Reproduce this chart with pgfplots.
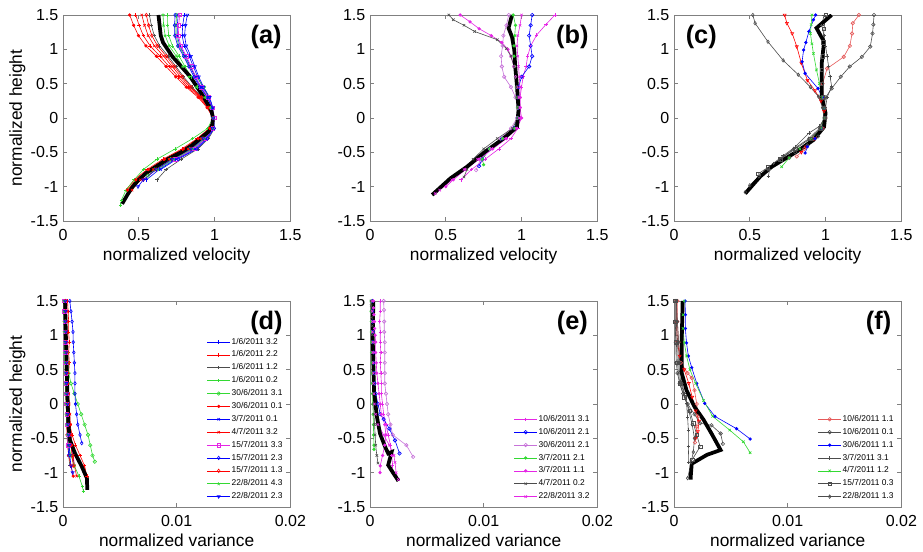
\documentclass[border=0pt]{standalone}
\usepackage{pgfplots}
\pgfplotsset{compat=1.18}
\usepackage{fontspec}
\setmainfont{Liberation Sans}
\definecolor{mb}{rgb}{0,0,1}
\definecolor{mr}{rgb}{1,0,0}
\definecolor{mk}{rgb}{0.3,0.3,0.3}
\definecolor{mg}{rgb}{0.2,0.85,0.2}
\definecolor{mm}{rgb}{0.9,0.15,0.9}
\definecolor{mv}{rgb}{0.78,0.45,0.85}
\definecolor{lr}{rgb}{0.9,0.35,0.35}
\definecolor{axgray}{rgb}{0.5,0.5,0.5}
\tikzset{plab/.style={font=\bfseries\fontsize{19}{19}\selectfont}}
\pgfplotsset{
 panel/.style={scale only axis, width=170.5pt, height=154.5pt, ymin=-1.5, ymax=1.5,
  ytick={-1.5,-1,-0.5,0,0.5,1,1.5}, yticklabels={-1.5,-1,-0.5,0,0.5,1,1.5},
  tick align=inside, tick pos=both, major tick length=3pt,
  axis line style={axgray, line width=0.6pt}, every tick/.style={axgray, line width=0.6pt},
  tick label style={font=\fontsize{12}{14}\selectfont},
  xticklabel style={yshift=-3pt},
  label style={font=\fontsize{13}{15}\selectfont},
  xlabel style={yshift=2pt},
  ylabel style={yshift=-3pt},
  scaled x ticks=false, scaled y ticks=false,
  every axis plot/.append style={line width=0.45pt, mark size=1.3pt},
  legend cell align=left,
  legend style={at={(0.99,0.01)}, anchor=south east, draw=none, fill=none,
   font=\fontsize{6.3}{7}\selectfont, row sep=1.6pt, nodes={inner sep=1pt}}},
 vel/.style={panel, xmin=0, xmax=1.5, xtick={0,0.5,1,1.5}, xticklabels={0,0.5,1,1.5}, xlabel={normalized velocity}},
 var/.style={panel, xmin=0, xmax=0.02, xtick={0,0.01,0.02}, xticklabels={0,0.01,0.02}, xlabel={normalized variance}},
 meanline/.style={black, line width=2.8pt, no marks},
 sa1/.style={mb, mark=+}, sa2/.style={mr, mark=+}, sa3/.style={mk, mark=+}, sa4/.style={mg, mark=+},
 sa5/.style={mg, mark=o}, sa6/.style={mr, mark=*, mark size=1pt}, sa7/.style={mb, mark=x}, sa8/.style={mr, mark=x},
 sa9/.style={mm, mark=square}, sa10/.style={mb, mark=diamond}, sa11/.style={mr, mark=diamond},
 sa12/.style={mg, mark=star}, sa13/.style={mb, mark=triangle, mark options={rotate=180}},
 sb1/.style={mm, mark=+}, sb2/.style={mb, mark=o}, sb3/.style={mv, mark=o}, sb4/.style={mg, mark=*, mark size=1pt},
 sb5/.style={mm, mark=*, mark size=1pt}, sb6/.style={mk, mark=x}, sb7/.style={mm, mark=x},
 sc1/.style={lr, mark=o}, sc2/.style={mk, mark=o}, sc3/.style={mb, mark=*, mark size=1pt}, sc4/.style={mk, mark=+},
 sc5/.style={mg, mark=x}, sc6/.style={mk, mark=square}, sc7/.style={mk, mark=diamond}, sc8/.style={mr, mark=triangle, mark options={rotate=180}},
}
\begin{document}
\begin{tikzpicture}
\useasboundingbox (0,0) rectangle (692.25pt,414pt);
% ---------------- (a)
\begin{axis}[vel, at={(47.25pt,248.25pt)}, anchor=south west, ylabel={normalized height}]
\addplot[sa1] coordinates {(0.80,1.5)(0.79,1.35)(0.786,1.2)(0.80,1.05)(0.832,0.9)(0.86,0.75)(0.888,0.6)(0.921,0.45)(0.964,0.3)(0.987,0.15)(0.99,0)(0.992,-0.15)(0.938,-0.3)(0.865,-0.45)(0.74,-0.6)(0.635,-0.75)(0.55,-0.9)};
\addplot[sa2] coordinates {(0.48,1.5)(0.502,1.35)(0.53,1.2)(0.575,1.05)(0.64,0.9)(0.70,0.75)(0.76,0.6)(0.825,0.45)(0.90,0.3)(0.955,0.15)(0.99,0)(0.965,-0.15)(0.885,-0.3)(0.785,-0.45)(0.66,-0.6)(0.555,-0.75)(0.47,-0.9)(0.415,-1.05)};
\addplot[sa3] coordinates {(0.57,1.5)(0.583,1.35)(0.602,1.2)(0.638,1.05)(0.694,0.9)(0.745,0.75)(0.796,0.6)(0.852,0.45)(0.918,0.3)(0.964,0.15)(0.99,0)(1.0,-0.15)(0.96,-0.3)(0.89,-0.45)(0.78,-0.6)(0.68,-0.75)(0.62,-0.9)};
\addplot[sa4] coordinates {(0.69,1.5)(0.691,1.35)(0.698,1.2)(0.722,1.05)(0.766,0.9)(0.805,0.75)(0.844,0.6)(0.888,0.45)(0.942,0.3)(0.976,0.15)(0.99,0)(0.955,-0.15)(0.855,-0.3)(0.74,-0.45)(0.62,-0.6)(0.53,-0.75)(0.47,-0.9)(0.415,-1.05)(0.385,-1.2)(0.38,-1.27)};
\addplot[sa5] coordinates {(0.75,1.5)(0.745,1.35)(0.746,1.2)(0.764,1.05)(0.802,0.9)(0.835,0.75)(0.88,0.6)(0.93,0.45)(0.96,0.3)(0.982,0.15)(0.99,0)(0.982,-0.15)(0.918,-0.3)(0.835,-0.45)(0.71,-0.6)(0.605,-0.75)(0.56,-0.84)};
\addplot[sa6] coordinates {(0.44,1.5)(0.466,1.35)(0.498,1.2)(0.547,1.05)(0.616,0.9)(0.68,0.75)(0.744,0.6)(0.813,0.45)(0.892,0.3)(0.951,0.15)(0.99,0)(0.968,-0.15)(0.892,-0.3)(0.795,-0.45)(0.67,-0.6)(0.565,-0.75)(0.48,-0.9)(0.425,-1.05)};
\addplot[sa7] coordinates {(0.76,1.5)(0.754,1.35)(0.754,1.2)(0.771,1.05)(0.808,0.9)(0.84,0.75)(0.872,0.6)(0.909,0.45)(0.956,0.3)(0.983,0.15)(0.99,0)(0.995,-0.15)(0.945,-0.3)(0.875,-0.45)(0.75,-0.6)(0.645,-0.75)};
\addplot[sa8] coordinates {(0.52,1.5)(0.538,1.35)(0.562,1.2)(0.603,1.05)(0.664,0.9)(0.72,0.75)(0.776,0.6)(0.837,0.45)(0.908,0.3)(0.959,0.15)(0.99,0)(0.978,-0.15)(0.912,-0.3)(0.825,-0.45)(0.70,-0.6)(0.595,-0.75)(0.51,-0.9)(0.455,-1.05)};
\addplot[sa9] coordinates {(0.77,1.5)(0.763,1.35)(0.762,1.2)(0.778,1.05)(0.814,0.9)(0.845,0.75)(0.876,0.6)(0.912,0.45)(0.958,0.3)(0.984,0.15)(1.0,0)(0.99,-0.15)(0.94,-0.3)(0.865,-0.45)(0.74,-0.6)};
\addplot[sa10] coordinates {(0.74,1.5)(0.736,1.35)(0.738,1.2)(0.757,1.05)(0.796,0.9)(0.83,0.75)(0.864,0.6)(0.903,0.45)(0.952,0.3)(0.981,0.15)(0.995,0)(0.998,-0.15)(0.952,-0.3)(0.885,-0.45)(0.76,-0.6)};
\addplot[sa11] coordinates {(0.55,1.5)(0.565,1.35)(0.586,1.2)(0.624,1.05)(0.682,0.9)(0.735,0.75)(0.788,0.6)(0.846,0.45)(0.914,0.3)(0.962,0.15)(0.99,0)(0.985,-0.15)(0.925,-0.3)(0.845,-0.45)(0.72,-0.6)(0.615,-0.75)(0.53,-0.9)};
\addplot[sa12] coordinates {(0.66,1.5)(0.664,1.35)(0.674,1.2)(0.701,1.05)(0.748,0.9)(0.79,0.75)(0.832,0.6)(0.879,0.45)(0.936,0.3)(0.973,0.15)(0.99,0)(0.988,-0.15)(0.932,-0.3)(0.855,-0.45)(0.73,-0.6)(0.625,-0.75)};
\addplot[sa13] coordinates {(0.82,1.5)(0.808,1.35)(0.802,1.2)(0.813,1.05)(0.844,0.9)(0.87,0.75)(0.896,0.6)(0.927,0.45)(0.968,0.3)(0.989,0.15)(0.99,0)(0.985,-0.15)(0.925,-0.3)(0.845,-0.45)(0.72,-0.6)(0.615,-0.75)(0.53,-0.9)(0.495,-1.0)};
\addplot[meanline] coordinates {(0.39,-1.25)(0.43,-1.1)(0.46,-1.0)(0.50,-0.9)(0.55,-0.8)(0.62,-0.7)(0.69,-0.6)(0.78,-0.5)(0.85,-0.4)(0.905,-0.3)(0.96,-0.2)(0.985,-0.1)(0.99,0)(0.98,0.1)(0.955,0.2)(0.93,0.3)(0.90,0.4)(0.87,0.5)(0.84,0.6)(0.80,0.7)(0.76,0.8)(0.72,0.9)(0.69,1.0)(0.66,1.1)(0.645,1.2)(0.64,1.3)(0.635,1.4)(0.63,1.5)};
\node[plab] at (axis cs:1.34,1.18) {(a)};
\end{axis}
% ---------------- (b)
\begin{axis}[vel, at={(277.5pt,248.25pt)}, anchor=south west]
\addplot[sb1] coordinates {(1.22,1.5)(1.16,1.36)(1.10,1.21)(1.06,1.05)(1.04,0.9)(1.03,0.75)(1.01,0.6)(1.0,0.45)(0.99,0.3)(0.99,0.15)(0.99,0)(0.975,-0.15)(0.93,-0.3)(0.85,-0.45)(0.76,-0.6)(0.67,-0.75)(0.60,-0.9)};
\addplot[sb2] coordinates {(1.07,1.5)(1.06,1.35)(1.05,1.2)(1.06,1.05)(1.07,0.9)(1.05,0.75)(1.0,0.6)(0.98,0.45)(0.975,0.3)(0.98,0.15)(0.975,0)(0.95,-0.15)(0.87,-0.3)(0.79,-0.45)(0.74,-0.6)(0.72,-0.7)};
\addplot[sb3] coordinates {(0.915,1.5)(0.90,1.35)(0.88,1.2)(0.875,1.05)(0.865,0.9)(0.87,0.75)(0.885,0.6)(0.93,0.45)(0.96,0.3)(0.975,0.15)(0.97,0)(0.93,-0.15)(0.86,-0.3)(0.79,-0.45)(0.73,-0.6)(0.70,-0.76)};
\addplot[sb4] coordinates {(0.945,1.5)(0.96,1.35)(0.955,1.2)(0.95,1.05)(0.95,0.9)(0.955,0.75)(0.96,0.6)(0.965,0.45)(0.97,0.3)(0.975,0.15)(0.975,0)(0.955,-0.15)(0.875,-0.3)(0.79,-0.45)(0.74,-0.6)(0.75,-0.68)};
\addplot[sb5] coordinates {(0.595,1.5)(0.66,1.4)(0.72,1.3)(0.80,1.2)(0.87,1.1)(0.91,1.0)(0.93,0.9)(0.95,0.75)(0.96,0.6)(0.97,0.45)(0.98,0.3)(0.99,0.15)(1.0,0)(0.97,-0.15)(0.90,-0.3)(0.81,-0.45)(0.72,-0.6)(0.63,-0.75)(0.55,-0.9)(0.50,-1.0)};
\addplot[sb6] coordinates {(0.52,1.5)(0.55,1.43)(0.62,1.35)(0.69,1.26)(0.84,1.14)(0.90,1.01)(0.93,0.9)(0.95,0.75)(0.96,0.6)(0.965,0.45)(0.97,0.3)(0.975,0.15)(0.975,0)(0.94,-0.15)(0.84,-0.3)(0.75,-0.45)(0.68,-0.6)(0.64,-0.75)(0.62,-0.86)};
\addplot[sb7] coordinates {(1.0,1.5)(0.99,1.35)(0.975,1.2)(0.97,1.05)(0.975,0.9)(0.98,0.75)(0.985,0.6)(0.99,0.45)(0.99,0.3)(0.99,0.15)(0.985,0)(0.965,-0.15)(0.89,-0.3)(0.80,-0.45)(0.71,-0.6)(0.62,-0.75)(0.54,-0.9)(0.46,-1.05)(0.43,-1.1)};
\addplot[meanline] coordinates {(0.41,-1.12)(0.445,-1.05)(0.53,-0.88)(0.64,-0.71)(0.76,-0.49)(0.88,-0.30)(0.97,-0.13)(0.98,0.12)(0.97,0.46)(0.958,0.75)(0.952,0.99)(0.937,1.18)(0.914,1.31)(0.937,1.5)};
\node[plab] at (axis cs:1.335,1.18) {(b)};
\end{axis}
% ---------------- (c)
\begin{axis}[vel, at={(505.5pt,248.25pt)}, anchor=south west]
\addplot[sc8, forget plot] coordinates {(0.73,1.5)(0.745,1.38)(0.78,1.23)(0.81,1.04)(0.84,0.80)(0.88,0.55)(0.93,0.4)(0.97,0.25)(0.99,0.1)(0.995,0)(0.98,-0.15)(0.93,-0.3)(0.87,-0.42)(0.84,-0.5)};
\addplot[sc1] coordinates {(1.22,1.5)(1.18,1.38)(1.175,1.23)(1.16,1.05)(1.12,0.89)(1.01,0.72)(0.98,0.5)(0.985,0.3)(0.995,0.15)(1.0,0)(0.98,-0.15)(0.92,-0.3)(0.86,-0.45)(0.81,-0.56)};
\addplot[sc2] coordinates {(1.32,1.5)(1.315,1.36)(1.31,1.23)(1.295,1.04)(1.24,0.89)(1.16,0.75)(1.10,0.6)(1.04,0.43)(1.0,0.3)(0.99,0.15)(1.0,0)(0.975,-0.15)(0.95,-0.27)(0.88,-0.4)(0.80,-0.5)(0.76,-0.58)};
\addplot[sc3] coordinates {(0.935,1.5)(0.92,1.43)(0.89,1.26)(0.87,1.1)(0.855,0.99)(0.845,0.82)(0.865,0.65)(0.95,0.43)(0.98,0.3)(0.99,0.15)(0.995,0)(0.975,-0.15)(0.93,-0.3)(0.88,-0.42)(0.865,-0.51)};
\addplot[sc4] coordinates {(0.99,1.5)(0.975,1.35)(0.99,1.2)(1.0,1.05)(1.01,0.9)(1.02,0.75)(1.03,0.6)(1.04,0.46)(1.01,0.3)(1.0,0.15)(0.995,0)(0.96,-0.12)(0.89,-0.22)(0.80,-0.42)(0.72,-0.55)(0.656,-0.66)(0.63,-0.75)(0.623,-0.85)};
\addplot[sc5] coordinates {(0.91,1.5)(0.905,1.36)(0.90,1.23)(0.91,1.08)(0.92,0.94)(0.94,0.70)(0.96,0.5)(0.975,0.3)(0.985,0.15)(0.99,0)(0.97,-0.15)(0.91,-0.3)(0.83,-0.45)(0.76,-0.58)(0.71,-0.71)};
\addplot[sc6] coordinates {(1.0,1.5)(0.99,1.3)(0.985,1.1)(0.98,0.9)(0.975,0.7)(0.975,0.5)(0.98,0.3)(0.99,0.15)(0.995,0)(0.97,-0.15)(0.90,-0.3)(0.80,-0.45)(0.70,-0.6)(0.62,-0.72)(0.557,-0.81)};
\addplot[sc7] coordinates {(0.52,1.5)(0.535,1.38)(0.62,1.11)(0.72,0.84)(0.82,0.63)(0.90,0.45)(0.954,0.31)(0.98,0.15)(0.99,0)(0.96,-0.15)(0.89,-0.3)(0.79,-0.45)(0.70,-0.6)(0.62,-0.75)(0.56,-0.85)(0.50,-0.98)(0.47,-1.08)};
\addplot[meanline] coordinates {(0.47,-1.10)(0.57,-0.85)(0.645,-0.71)(0.81,-0.49)(0.92,-0.32)(0.99,-0.13)(1.0,0.07)(0.975,0.31)(0.975,0.80)(0.99,1.11)(0.94,1.31)(1.04,1.5)};
\node[plab] at (axis cs:0.18,1.18) {(c)};
\end{axis}
% ---------------- (d)
\begin{axis}[var, at={(47.25pt,33.75pt)}, anchor=south west, ylabel={normalized height}]
\addplot[sa1] coordinates {(0.0002,1.5)(0.00022,1.35)(0.0002,1.2)(0.00025,1.05)(0.00024,0.9)(0.00028,0.75)(0.0003,0.6)(0.0003,0.45)(0.00033,0.3)(0.00035,0.15)(0.0004,0)(0.00045,-0.15)(0.0005,-0.3)(0.0006,-0.45)(0.0007,-0.6)(0.00085,-0.75)(0.001,-0.9)};
\addplot[sa2] coordinates {(0.0004,1.5)(0.00045,1.35)(0.0005,1.2)(0.0005,1.05)(0.00055,0.9)(0.0005,0.75)(0.00055,0.6)(0.0005,0.45)(0.0005,0.3)(0.00045,0.15)(0.0005,0)(0.00055,-0.15)(0.0006,-0.3)(0.0008,-0.45)(0.0011,-0.6)(0.0015,-0.75)(0.0019,-0.9)(0.0021,-1.05)};
\addplot[sa3] coordinates {(0.0001,1.5)(0.00012,1.35)(0.00015,1.2)(0.00015,1.05)(0.00018,0.9)(0.0002,0.75)(0.0002,0.6)(0.00022,0.45)(0.00025,0.3)(0.00025,0.15)(0.0003,0)(0.00032,-0.15)(0.00035,-0.3)(0.0004,-0.45)(0.00045,-0.6)(0.0005,-0.75)(0.0006,-0.9)};
\addplot[sa4] coordinates {(0.0001,1.5)(0.0001,1.35)(0.00012,1.2)(0.00012,1.05)(0.00015,0.9)(0.00015,0.75)(0.00018,0.6)(0.0002,0.45)(0.00022,0.3)(0.00025,0.15)(0.0003,0)(0.00033,-0.15)(0.00038,-0.3)(0.00045,-0.45)(0.0005,-0.6)(0.0007,-0.75)(0.001,-0.9)(0.0014,-1.05)(0.0017,-1.2)(0.0018,-1.27)};
\addplot[sa5] coordinates {(0.0002,1.5)(0.0002,1.35)(0.0002,1.2)(0.00025,1.05)(0.0003,0.9)(0.00035,0.75)(0.0004,0.6)(0.0005,0.45)(0.0007,0.3)(0.001,0.15)(0.0013,0)(0.0016,-0.15)(0.0019,-0.3)(0.0022,-0.45)(0.0024,-0.6)(0.0026,-0.75)(0.0028,-0.84)};
\addplot[sa6] coordinates {(0.0001,1.5)(0.00012,1.35)(0.00012,1.2)(0.00015,1.05)(0.00015,0.9)(0.00018,0.75)(0.0002,0.6)(0.0002,0.45)(0.00022,0.3)(0.00025,0.15)(0.00028,0)(0.0003,-0.15)(0.00032,-0.3)(0.00035,-0.45)(0.0004,-0.6)(0.0005,-0.75)(0.0007,-0.9)(0.0009,-1.05)};
\addplot[sa7] coordinates {(0.00015,1.5)(0.00015,1.35)(0.00018,1.2)(0.0002,1.05)(0.0002,0.9)(0.00022,0.75)(0.00025,0.6)(0.00025,0.45)(0.00028,0.3)(0.0003,0.15)(0.00032,0)(0.00035,-0.15)(0.00038,-0.3)(0.0004,-0.45)(0.00045,-0.6)(0.0005,-0.75)};
\addplot[sa8] coordinates {(0.0003,1.5)(0.00032,1.35)(0.0003,1.2)(0.00035,1.05)(0.00035,0.9)(0.0004,0.75)(0.0004,0.6)(0.00042,0.45)(0.00045,0.3)(0.0005,0.15)(0.00055,0)(0.0006,-0.15)(0.00065,-0.3)(0.0007,-0.45)(0.0008,-0.6)(0.0009,-0.75)(0.001,-0.9)(0.0012,-1.05)};
\addplot[sa9] coordinates {(0.0001,1.5)(0.00012,1.35)(0.00015,1.2)(0.00018,1.05)(0.0002,0.9)(0.00022,0.75)(0.00022,0.6)(0.00025,0.45)(0.00025,0.3)(0.00028,0.15)(0.0003,0)(0.00032,-0.15)(0.00035,-0.3)(0.0004,-0.45)(0.00045,-0.6)};
\addplot[sa10] coordinates {(0.0006,1.5)(0.0007,1.35)(0.0008,1.2)(0.00088,1.05)(0.0009,0.9)(0.00095,0.75)(0.001,0.6)(0.00105,0.45)(0.00105,0.3)(0.00105,0.15)(0.0011,0)(0.0012,-0.15)(0.0013,-0.3)(0.0015,-0.45)(0.00165,-0.57)};
\addplot[sa11] coordinates {(0.0002,1.5)(0.00022,1.35)(0.00025,1.2)(0.00025,1.05)(0.00028,0.9)(0.0003,0.75)(0.0003,0.6)(0.00032,0.45)(0.00035,0.3)(0.00038,0.15)(0.0004,0)(0.00045,-0.15)(0.0005,-0.3)(0.0006,-0.45)(0.0007,-0.6)(0.0008,-0.75)(0.0009,-0.9)};
\addplot[sa12] coordinates {(0.0001,1.5)(0.0001,1.35)(0.00012,1.2)(0.00012,1.05)(0.00015,0.9)(0.00015,0.75)(0.00018,0.6)(0.0002,0.45)(0.00022,0.3)(0.00025,0.15)(0.00028,0)(0.0003,-0.15)(0.00035,-0.3)(0.0004,-0.45)(0.0005,-0.6)(0.0006,-0.75)};
\addplot[sa13] coordinates {(0.0002,1.5)(0.00022,1.35)(0.00022,1.2)(0.00025,1.05)(0.00025,0.9)(0.00028,0.75)(0.0003,0.6)(0.0003,0.45)(0.00032,0.3)(0.00035,0.15)(0.0004,0)(0.00042,-0.15)(0.00045,-0.3)(0.0005,-0.45)(0.00055,-0.6)(0.0006,-0.75)(0.0007,-0.9)(0.00085,-1.0)};
\addplot[meanline, forget plot] coordinates {(0.00018,1.5)(0.00026,0.94)(0.00038,0.2)(0.00047,-0.28)(0.0006,-0.52)(0.00106,-0.72)(0.00165,-0.91)(0.0021,-1.08)(0.00214,-1.25)};
\legend{1/6/2011 3.2,1/6/2011 2.2,1/6/2011 1.2,1/6/2011 0.2,30/6/2011 3.1,30/6/2011 0.1,3/7/2011 0.1,4/7/2011 3.2,15/7/2011 3.3,15/7/2011 2.3,15/7/2011 1.3,22/8/2011 4.3,22/8/2011 2.3}
\node[plab] at (axis cs:0.0179,1.18) {(d)};
\end{axis}
% ---------------- (e)
\begin{axis}[var, at={(277.5pt,33.75pt)}, anchor=south west]
\addplot[sb1] coordinates {(0.0009,1.5)(0.0009,1.35)(0.00085,1.2)(0.0009,1.05)(0.0009,0.9)(0.00095,0.75)(0.0009,0.6)(0.00095,0.45)(0.001,0.3)(0.001,0.15)(0.0011,0)(0.0012,-0.15)(0.0014,-0.3)(0.0016,-0.45)(0.0018,-0.6)(0.0019,-0.75)(0.002,-0.9)};
\addplot[sb2] coordinates {(0.0002,1.5)(0.0002,1.35)(0.00022,1.2)(0.00025,1.05)(0.00025,0.9)(0.0003,0.75)(0.0003,0.6)(0.00035,0.45)(0.0004,0.3)(0.0005,0.15)(0.0007,0)(0.0009,-0.15)(0.0012,-0.22)(0.0017,-0.36)(0.0022,-0.53)(0.0026,-0.72)};
\addplot[sb3] coordinates {(0.0012,1.5)(0.00123,1.37)(0.00125,1.2)(0.00125,1.05)(0.0013,0.9)(0.0013,0.75)(0.0013,0.6)(0.0013,0.45)(0.0013,0.3)(0.0014,0.15)(0.0015,0)(0.0016,-0.15)(0.0018,-0.3)(0.002,-0.45)(0.0032,-0.6)(0.0038,-0.77)};
\addplot[sb4] coordinates {(0.0001,1.5)(0.0001,1.35)(0.00012,1.2)(0.00012,1.05)(0.00015,0.9)(0.00015,0.75)(0.00018,0.6)(0.0002,0.45)(0.0002,0.3)(0.00022,0.15)(0.00025,0)(0.00028,-0.15)(0.0003,-0.3)(0.00032,-0.45)(0.00035,-0.6)(0.00035,-0.66)};
\addplot[sb5] coordinates {(0.0003,1.5)(0.0003,1.4)(0.00035,1.3)(0.0004,1.2)(0.0004,1.1)(0.00045,1.0)(0.0005,0.9)(0.0005,0.75)(0.00055,0.6)(0.0006,0.45)(0.0007,0.3)(0.0008,0.15)(0.0009,0)(0.001,-0.15)(0.0013,-0.3)(0.0014,-0.45)(0.0013,-0.6)(0.0011,-0.75)(0.0009,-0.9)(0.00088,-1.0)};
\addplot[sb6] coordinates {(0.0001,1.5)(0.0001,1.43)(0.00012,1.35)(0.00015,1.26)(0.0002,1.14)(0.0002,1.01)(0.00022,0.9)(0.00022,0.75)(0.00025,0.6)(0.00025,0.45)(0.00028,0.3)(0.0003,0.15)(0.00032,0)(0.00035,-0.15)(0.0004,-0.3)(0.00045,-0.45)(0.0005,-0.6)(0.0006,-0.75)(0.0007,-0.86)};
\addplot[sb7] coordinates {(0.0002,1.5)(0.0002,1.35)(0.00022,1.2)(0.00022,1.05)(0.00025,0.9)(0.00025,0.75)(0.00028,0.6)(0.0003,0.45)(0.00032,0.3)(0.00035,0.15)(0.0004,0)(0.0005,-0.15)(0.0007,-0.3)(0.0012,-0.45)(0.0017,-0.6)(0.0021,-0.75)(0.0022,-0.85)(0.0023,-1.0)(0.0025,-1.1)};
\addplot[meanline, forget plot] coordinates {(0.00029,1.5)(0.00024,0.94)(0.00035,0.2)(0.0006,-0.18)(0.00088,-0.43)(0.00132,-0.62)(0.0016,-0.72)(0.0019,-0.70)(0.0016,-0.89)(0.00206,-1.01)(0.0025,-1.12)};
\legend{10/6/2011 3.1,10/6/2011 2.1,30/6/2011 2.1,3/7/2011 2.1,3/7/2011 1.1,4/7/2011 0.2,22/8/2011 3.2}
\node[plab] at (axis cs:0.0178,1.18) {(e)};
\end{axis}
% ---------------- (f)
\begin{axis}[var, at={(505.5pt,33.75pt)}, anchor=south west]
\addplot[sc8, forget plot] coordinates {(0.0002,1.5)(0.0002,1.2)(0.0003,0.9)(0.0005,0.7)(0.0009,0.5)(0.0013,0.3)(0.0016,0.1)(0.0019,-0.1)(0.0022,-0.25)(0.0021,-0.4)(0.0019,-0.5)};
\addplot[sc1] coordinates {(0.0003,1.5)(0.0003,1.2)(0.0004,0.9)(0.0006,0.6)(0.0012,0.45)(0.00156,0.38)(0.0018,0.2)(0.002,0)(0.0021,-0.18)(0.002,-0.33)(0.00185,-0.56)};
\addplot[sc2] coordinates {(0.0001,1.5)(0.0001,1.2)(0.00015,0.9)(0.0002,0.6)(0.0003,0.45)(0.0005,0.3)(0.0008,0.15)(0.0012,0)(0.0018,-0.15)(0.0023,-0.28)(0.0033,-0.31)(0.0041,-0.43)(0.0043,-0.58)};
\addplot[sc3] coordinates {(0.00097,1.5)(0.001,1.3)(0.001,1.1)(0.0011,0.89)(0.00126,0.70)(0.00156,0.53)(0.002,0.30)(0.0027,0.01)(0.0036,-0.18)(0.0055,-0.36)(0.0067,-0.51)};
\addplot[sc4] coordinates {(0.0002,1.5)(0.0002,1.2)(0.0003,0.9)(0.0004,0.6)(0.0006,0.3)(0.0009,0.15)(0.0011,0.01)(0.0012,-0.2)(0.00126,-0.38)(0.00126,-0.62)(0.0013,-0.85)};
\addplot[sc5] coordinates {(0.0009,1.5)(0.0008,1.3)(0.0008,1.1)(0.0009,0.9)(0.0011,0.7)(0.0014,0.5)(0.0019,0.3)(0.0026,0.05)(0.0034,-0.18)(0.0049,-0.38)(0.0061,-0.55)(0.0067,-0.71)};
\addplot[sc6] coordinates {(0.0001,1.5)(0.0001,1.2)(0.0002,0.9)(0.0003,0.6)(0.0005,0.3)(0.0009,0.1)(0.0014,-0.1)(0.0017,-0.28)(0.002,-0.45)(0.0023,-0.62)(0.0016,-0.81)};
\addplot[sc7] coordinates {(0.0002,1.5)(0.0003,1.2)(0.0004,0.9)(0.0005,0.6)(0.0007,0.3)(0.001,0.1)(0.0013,-0.1)(0.0016,-0.3)(0.0018,-0.5)(0.0017,-0.7)(0.0015,-0.85)(0.0012,-1.08)};
\addplot[meanline, forget plot] coordinates {(0.00076,1.5)(0.00068,0.94)(0.00068,0.45)(0.0011,0.2)(0.0018,-0.04)(0.0026,-0.23)(0.0033,-0.43)(0.0041,-0.67)(0.0029,-0.74)(0.00156,-0.87)(0.00147,-1.06)(0.00147,-1.10)};
\legend{10/6/2011 1.1,10/6/2011 0.1,30/6/2011 1.1,3/7/2011 3.1,4/7/2011 1.2,15/7/2011 0.3,22/8/2011 1.3}
\node[plab] at (axis cs:0.018,1.18) {(f)};
\end{axis}
\end{tikzpicture}
\end{document}
